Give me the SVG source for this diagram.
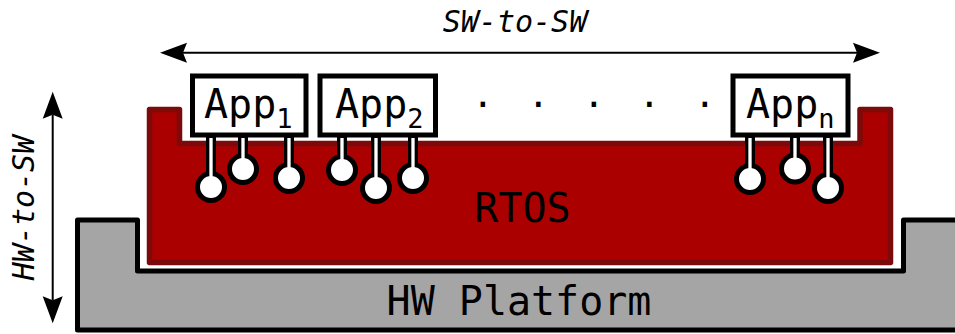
<svg xmlns="http://www.w3.org/2000/svg" width="955" height="334" viewBox="0 0 955 334">
  <style>
    .mono { font-family: "DejaVu Sans Mono", "Liberation Mono", monospace; fill: #000; }
    .oblique { font-style: italic; }
    .app-box { fill: #fff; stroke: #000; stroke-width: 5; stroke-linejoin: miter; }
    .pin-outer { stroke: #000; stroke-width: 10; fill: none; }
    .pin-inner { stroke: #fff; stroke-width: 3.3; fill: none; }
    .pin-head { fill: #fff; stroke: #000; stroke-width: 5; }
    .arrow-line { stroke: #000; stroke-width: 2; fill: none; }
  </style>
  <defs>
    <marker id="arrowhead" viewBox="-1 -11 30 22" refX="4" refY="0" markerWidth="30" markerHeight="22" markerUnits="userSpaceOnUse" orient="auto-start-reverse">
      <path d="M0,-10 L27,0 L0,10 L4,0 Z" fill="#000"/>
    </marker>
  </defs>

  <rect width="955" height="334" fill="#fff"/>

  <!-- hardware platform base -->
  <g id="hw-platform">
    <path d="M77.5,330 V220 H137.5 V271 H903.5 V220 H960 V330 Z" fill="#a5a5a5" stroke="#000" stroke-width="5" stroke-linejoin="round"/>
    <text class="mono" x="519" y="315" font-size="40" text-anchor="middle">HW Platform</text>
  </g>

  <!-- operating system layer -->
  <g id="rtos">
    <path d="M149.5,109.5 H179.5 V143.5 H860 V109.5 H890.5 V262.5 H149.5 Z" fill="#aa0000" stroke="#7c0a0a" stroke-width="5.5" stroke-linejoin="round"/>
    <text class="mono" x="522.5" y="222" font-size="40" text-anchor="middle">RTOS</text>
  </g>

  <!-- application 1 with its three pins -->
  <g id="app-1">
    <path class="pin-outer" d="M211,135 V187 M243,135 V169 M289,135 V178"/>
    <circle class="pin-head" cx="211" cy="187" r="13.5"/>
    <circle class="pin-head" cx="243" cy="169" r="13.5"/>
    <circle class="pin-head" cx="289" cy="178" r="13.5"/>
    <path class="pin-inner" d="M211,138 V187 M243,138 V169 M289,138 V178"/>
    <rect class="app-box" x="192.5" y="76" width="113.5" height="59"/>
    <text class="mono" x="204" y="118" font-size="40">App<tspan font-size="27" dy="9.5">1</tspan></text>
  </g>

  <!-- application 2 with its three pins -->
  <g id="app-2">
    <path class="pin-outer" d="M342,135 V170 M376,135 V188 M413,135 V178"/>
    <circle class="pin-head" cx="342" cy="170" r="13.5"/>
    <circle class="pin-head" cx="376" cy="188" r="13.5"/>
    <circle class="pin-head" cx="413" cy="178" r="13.5"/>
    <path class="pin-inner" d="M342,138 V170 M376,138 V188 M413,138 V178"/>
    <rect class="app-box" x="320" y="76" width="115.5" height="59"/>
    <text class="mono" x="335" y="118" font-size="40">App<tspan font-size="27" dy="9.5">2</tspan></text>
  </g>

  <!-- ellipsis between applications -->
  <text class="mono" x="472 527.5 583 638.5 694" y="106.5" font-size="36">.....</text>

  <!-- application n with its three pins -->
  <g id="app-n">
    <path class="pin-outer" d="M750,135 V179 M795,135 V168.5 M828,135 V188"/>
    <circle class="pin-head" cx="750" cy="179" r="13.5"/>
    <circle class="pin-head" cx="795" cy="168.5" r="13.5"/>
    <circle class="pin-head" cx="828" cy="188" r="13.5"/>
    <path class="pin-inner" d="M750,138 V179 M795,138 V168.5 M828,138 V188"/>
    <rect class="app-box" x="733" y="76" width="115" height="59"/>
    <text class="mono" x="746" y="118" font-size="40">App<tspan font-size="27" dy="9.5">n</tspan></text>
  </g>

  <!-- interface arrows -->
  <g id="connectors">
    <line class="arrow-line" x1="183" y1="52.7" x2="857" y2="52.7" marker-start="url(#arrowhead)" marker-end="url(#arrowhead)"/>
    <line class="arrow-line" x1="52.7" y1="114.7" x2="52.7" y2="300.3" marker-start="url(#arrowhead)" marker-end="url(#arrowhead)"/>
    <text class="mono oblique" x="515" y="32" font-size="30" text-anchor="middle">SW-to-SW</text>
    <text class="mono oblique" transform="translate(34,208) rotate(-90)" x="0" y="0" font-size="30" text-anchor="middle">HW-to-SW</text>
  </g>
</svg>
